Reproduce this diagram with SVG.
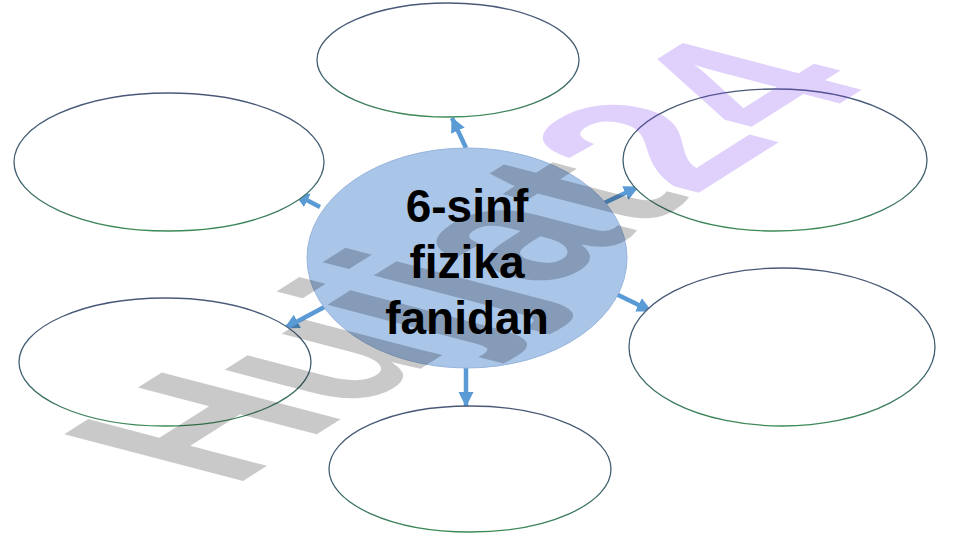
<svg xmlns="http://www.w3.org/2000/svg" width="961" height="540" viewBox="0 0 961 540">
  <defs>
    <linearGradient id="edge" x1="0" y1="0" x2="0" y2="1">
      <stop offset="0" stop-color="#4a5878"/>
      <stop offset="0.6" stop-color="#3f6070"/>
      <stop offset="1" stop-color="#3b8a55"/>
    </linearGradient>
    <marker id="head" markerUnits="userSpaceOnUse" markerWidth="18" markerHeight="18" refX="14" refY="9" orient="auto" viewBox="0 0 18 18">
      <path d="M0,1.5 L15,9 L0,16.5 Z" fill="#5b9bd5"/>
    </marker>
  </defs>
  <style>
    .conn { stroke: #5b9bd5; stroke-width: 4.5; fill: none; marker-end: url(#head); }
    .box { fill: #ffffff; stroke: url(#edge); stroke-width: 1.3; }
    .hub { fill: #a9c5e8; stroke: #98b5dc; stroke-width: 1; }
    .label { font-family: "Liberation Sans", Arial, sans-serif; font-weight: bold; font-size: 46px; fill: #000000; text-anchor: middle; }
    .wm { font-family: "Liberation Sans", Arial, sans-serif; font-weight: bold; font-size: 100px; }
  </style>

  <rect width="961" height="540" fill="#ffffff"/>

  <g id="connectors">
    <line class="conn" x1="466" y1="148" x2="452" y2="118"/>
    <line class="conn" x1="320" y1="207" x2="295" y2="194"/>
    <line class="conn" x1="600" y1="205" x2="638" y2="187"/>
    <line class="conn" x1="610" y1="291" x2="651" y2="311"/>
    <line class="conn" x1="330" y1="304" x2="285" y2="328"/>
    <line class="conn" x1="466" y1="368" x2="466" y2="406"/>
  </g>

  <g id="node-top"><ellipse class="box" cx="448" cy="60" rx="131" ry="57"/></g>
  <g id="node-left-top"><ellipse class="box" cx="169" cy="162" rx="155" ry="69"/></g>
  <g id="node-right-top"><ellipse class="box" cx="775" cy="160" rx="152" ry="71"/></g>
  <g id="node-left-bottom"><ellipse class="box" cx="165" cy="362" rx="146" ry="64"/></g>
  <g id="node-right-bottom"><ellipse class="box" cx="782" cy="347" rx="153" ry="79"/></g>
  <g id="node-bottom"><ellipse class="box" cx="470" cy="469" rx="141" ry="63"/></g>

  <g id="node-center">
    <ellipse class="hub" cx="467" cy="258" rx="160" ry="110"/>
  </g>

  <g id="watermark">
    <text class="wm" transform="matrix(1.66,-1.05,2.6,0.68,232,488)"><tspan fill="#000000" fill-opacity="0.21">Hujjat</tspan><tspan fill="#7a3ff0" fill-opacity="0.24">24</tspan></text>
  </g>

  <g id="node-center-label">
    <text class="label" x="467" y="222">6-sinf</text>
    <text class="label" x="467" y="278">fizika</text>
    <text class="label" x="467" y="334">fanidan</text>
  </g>
</svg>
